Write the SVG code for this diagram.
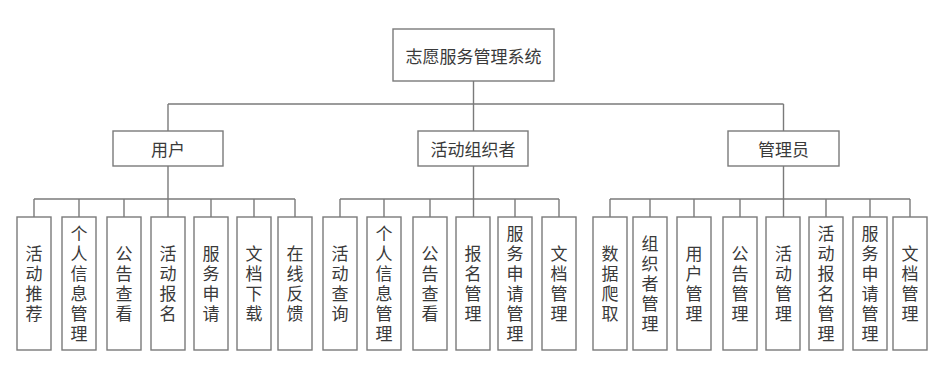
<svg xmlns="http://www.w3.org/2000/svg" width="949" height="375" viewBox="0 0 949 375">
<style>
rect{fill:#fff;stroke:#7a7a7a;stroke-width:1.4}
.c line{stroke:#7a7a7a;stroke-width:1.4}
text{font-family:"Noto Sans CJK SC","Noto Sans",sans-serif;font-size:17px;fill:#3a3a3a;text-anchor:middle;dominant-baseline:central}
.v{writing-mode:vertical-rl;letter-spacing:3px}
</style>
<rect x="0" y="0" width="949" height="375" style="fill:#fff;stroke:none"/>
<g class="c" id="connectors">
<line x1="473.5" y1="81" x2="473.5" y2="104"/>
<line x1="168" y1="104" x2="783.5" y2="104"/>
<line x1="168" y1="104" x2="168" y2="131"/>
<line x1="473.5" y1="104" x2="473.5" y2="131"/>
<line x1="783.5" y1="104" x2="783.5" y2="131"/>
<line x1="168" y1="166" x2="168" y2="217"/>
<line x1="34" y1="199" x2="295" y2="199"/>
<line x1="34" y1="199" x2="34" y2="217"/>
<line x1="79" y1="199" x2="79" y2="217"/>
<line x1="124" y1="199" x2="124" y2="217"/>
<line x1="211" y1="199" x2="211" y2="217"/>
<line x1="254" y1="199" x2="254" y2="217"/>
<line x1="295" y1="199" x2="295" y2="217"/>
<line x1="473.5" y1="166" x2="473.5" y2="217"/>
<line x1="340" y1="199" x2="559" y2="199"/>
<line x1="340" y1="199" x2="340" y2="217"/>
<line x1="384" y1="199" x2="384" y2="217"/>
<line x1="430" y1="199" x2="430" y2="217"/>
<line x1="515" y1="199" x2="515" y2="217"/>
<line x1="559" y1="199" x2="559" y2="217"/>
<line x1="783.5" y1="166" x2="783.5" y2="217"/>
<line x1="610" y1="199" x2="910" y2="199"/>
<line x1="610" y1="199" x2="610" y2="217"/>
<line x1="650" y1="199" x2="650" y2="217"/>
<line x1="694" y1="199" x2="694" y2="217"/>
<line x1="740" y1="199" x2="740" y2="217"/>
<line x1="826" y1="199" x2="826" y2="217"/>
<line x1="870" y1="199" x2="870" y2="217"/>
<line x1="910" y1="199" x2="910" y2="217"/>
</g>
<g id="root"><rect x="393" y="29" width="161" height="52"/><text x="473.5" y="55">志愿服务管理系统</text></g>
<g id="user"><rect x="113" y="131" width="110" height="35"/><text x="168" y="148.5">用户</text></g>
<g id="organizer"><rect x="418" y="131" width="110" height="35"/><text x="473" y="148.5">活动组织者</text></g>
<g id="admin"><rect x="728" y="131" width="111" height="35"/><text x="783.5" y="148.5">管理员</text></g>

<g id="u1"><rect x="17" y="217" width="34" height="133"/><text class="v" x="34" y="285">活动推荐</text></g>
<g id="u2"><rect x="62" y="217" width="34" height="133"/><text class="v" x="79" y="285">个人信息管理</text></g>
<g id="u3"><rect x="107" y="217" width="34" height="133"/><text class="v" x="124" y="285">公告查看</text></g>
<g id="u4"><rect x="151" y="217" width="34" height="133"/><text class="v" x="168" y="285">活动报名</text></g>
<g id="u5"><rect x="194" y="217" width="34" height="133"/><text class="v" x="211" y="285">服务申请</text></g>
<g id="u6"><rect x="237" y="217" width="34" height="133"/><text class="v" x="254" y="285">文档下载</text></g>
<g id="u7"><rect x="278" y="217" width="34" height="133"/><text class="v" x="295" y="285">在线反馈</text></g>

<g id="o1"><rect x="323" y="217" width="34" height="133"/><text class="v" x="340" y="285">活动查询</text></g>
<g id="o2"><rect x="367" y="217" width="34" height="133"/><text class="v" x="384" y="285">个人信息管理</text></g>
<g id="o3"><rect x="413" y="217" width="34" height="133"/><text class="v" x="430" y="285">公告查看</text></g>
<g id="o4"><rect x="456" y="217" width="34" height="133"/><text class="v" x="473" y="285">报名管理</text></g>
<g id="o5"><rect x="498" y="217" width="34" height="133"/><text class="v" x="515" y="285">服务申请管理</text></g>
<g id="o6"><rect x="542" y="217" width="34" height="133"/><text class="v" x="559" y="285">文档管理</text></g>

<g id="a1"><rect x="593" y="217" width="34" height="133"/><text class="v" x="610" y="285">数据爬取</text></g>
<g id="a2"><rect x="633" y="217" width="34" height="133"/><text class="v" x="650" y="285">组织者管理</text></g>
<g id="a3"><rect x="677" y="217" width="34" height="133"/><text class="v" x="694" y="285">用户管理</text></g>
<g id="a4"><rect x="723" y="217" width="34" height="133"/><text class="v" x="740" y="285">公告管理</text></g>
<g id="a5"><rect x="766" y="217" width="34" height="133"/><text class="v" x="783.5" y="285">活动管理</text></g>
<g id="a6"><rect x="809" y="217" width="34" height="133"/><text class="v" x="826" y="285">活动报名管理</text></g>
<g id="a7"><rect x="853" y="217" width="34" height="133"/><text class="v" x="870" y="285">服务申请管理</text></g>
<g id="a8"><rect x="893" y="217" width="34" height="133"/><text class="v" x="910" y="285">文档管理</text></g>
</svg>
